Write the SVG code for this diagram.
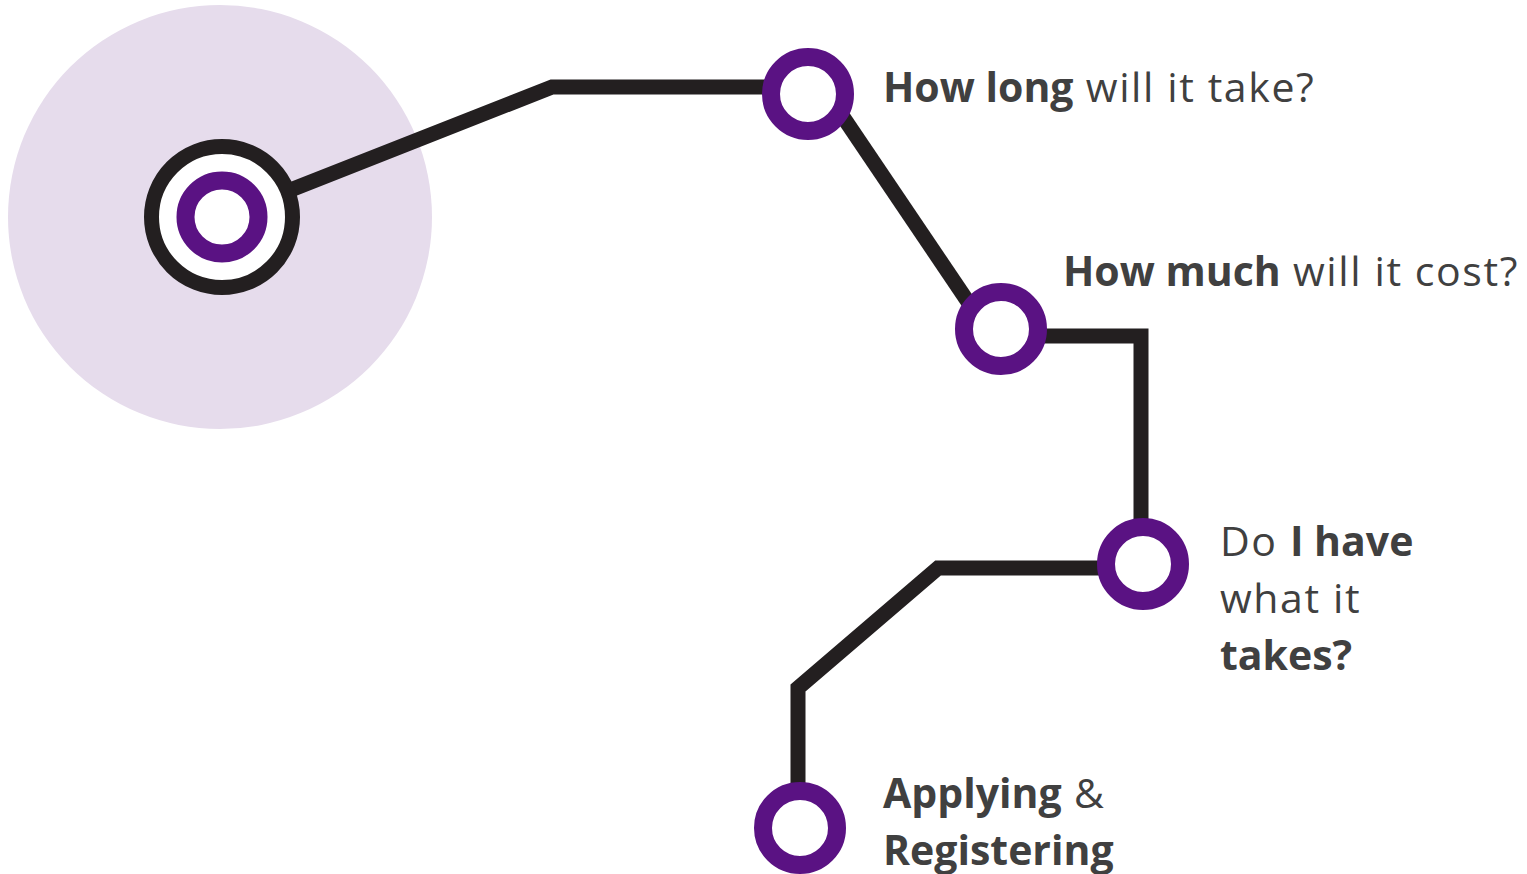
<svg xmlns="http://www.w3.org/2000/svg" width="1527" height="874" viewBox="0 0 1527 874">
<style>
.wire{fill:none;stroke:#231f20;stroke-width:15;stroke-linejoin:miter}
.ring{fill:#fff;stroke:#5a1283;stroke-width:18}
.lbl{font-family:"Open Sans","Liberation Sans",sans-serif;font-size:41px;fill:#404040;letter-spacing:1.6px}
.b{font-weight:bold;letter-spacing:0}
</style>
<rect width="1527" height="874" fill="#fff"/>
<circle cx="220" cy="217" r="212" fill="#e6dcec"/>
<g id="connectors">
<polyline class="wire" points="222,217 552,87 800,87"/>
<polyline class="wire" points="835,105 987,330"/>
<polyline class="wire" points="1001,336 1141,336 1141,560"/>
<polyline class="wire" points="1143,568 938,568 798,688 798,828"/>
</g>
<g id="start">
<circle cx="222" cy="217" r="70.5" fill="#fff" stroke="#231f20" stroke-width="15"/>
<circle class="ring" cx="222" cy="217" r="36.5"/>
</g>
<g id="n1"><circle class="ring" cx="808" cy="94" r="37"/>
<text class="lbl" x="883" y="102"><tspan class="b">How long</tspan> will it take?</text></g>
<g id="n2"><circle class="ring" cx="1001" cy="329" r="37"/>
<text class="lbl" x="1063" y="286"><tspan class="b">How much</tspan> will it cost?</text></g>
<g id="n3"><circle class="ring" cx="1143" cy="564" r="37"/>
<text class="lbl" x="1220" y="556">Do <tspan class="b">I have</tspan></text>
<text class="lbl" x="1220" y="613">what it</text>
<text class="lbl b" x="1220" y="670">takes?</text></g>
<g id="n4"><circle class="ring" cx="800" cy="828" r="37"/>
<text class="lbl" x="883" y="808"><tspan class="b">Applying</tspan> &amp;</text>
<text class="lbl b" x="883" y="865">Registering</text></g>
</svg>
